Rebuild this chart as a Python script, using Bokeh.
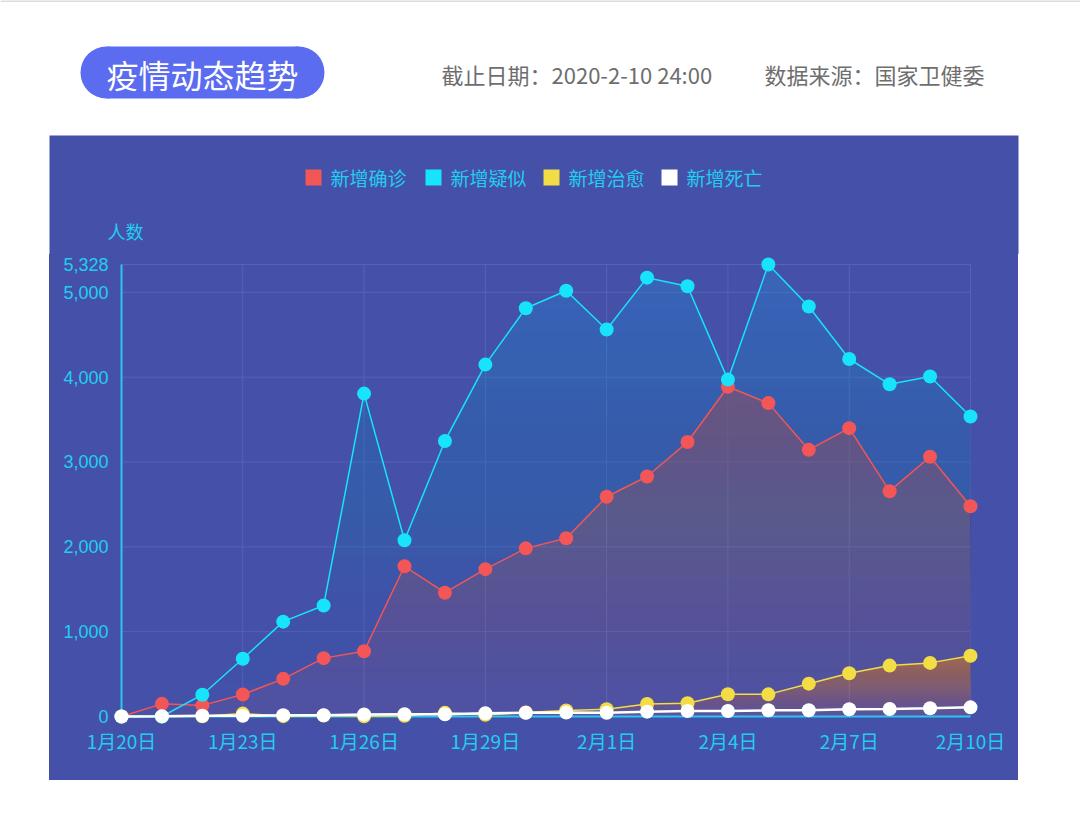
import numpy as np
from bokeh.plotting import figure
from bokeh.models import Range1d, FixedTicker, NumeralTickFormatter, Spacer
from bokeh.layouts import column, row
from bokeh.core.properties import value
from bokeh.embed import file_html
from bokeh.resources import INLINE

# ---------------- data ----------------
days = list(range(22))
date_labels = ["1月20日", "1月23日", "1月26日", "1月29日", "2月1日", "2月4日", "2月7日", "2月10日"]
label_days = [0, 3, 6, 9, 12, 15, 18, 21]
confirmed = [0, 149, 131, 259, 444, 688, 769, 1771, 1459, 1737, 1982, 2102,
             2590, 2829, 3235, 3887, 3694, 3143, 3399, 2656, 3062, 2478]
suspected = [0, 0, 257, 680, 1118, 1309, 3806, 2077, 3248, 4148, 4812, 5019,
             4562, 5173, 5072, 3971, 5328, 4833, 4214, 3916, 4008, 3536]
cured = [0, 0, 3, 34, 4, 11, 2, 9, 43, 21, 47, 72,
         85, 147, 157, 262, 261, 387, 510, 600, 632, 716]
deaths = [0, 3, 8, 8, 16, 15, 24, 26, 26, 38, 43, 46,
          45, 57, 64, 65, 73, 73, 86, 89, 97, 108]
y_ticks = [0, 1000, 2000, 3000, 4000, 5000, 5328]
series_names = ["新增确诊", "新增疑似", "新增治愈", "新增死亡"]

title_text = "疫情动态趋势"
date_text = "截止日期：2020-2-10 24:00"
source_text = "数据来源：国家卫健委"
y_title = "人数"

# ---------------- styles ----------------
PANEL = "#4551a8"
CYAN_TXT = "#22cdf3"
C_RED = "#f25656"
C_CYAN = "#17e3fb"
C_YEL = "#f3dd45"
C_WHITE = "#ffffff"
CJK = "Noto Sans CJK SC"
series_colors = [C_RED, C_CYAN, C_YEL, C_WHITE]

# ---------------- header (incl. top of the dark panel) ----------------
W = 1080
HH = 254
hdr = figure(width=W, height=HH, x_range=Range1d(0, W), y_range=Range1d(HH, 0),
             output_backend="svg", toolbar_location=None, min_border=0,
             x_axis_type=None, y_axis_type=None, outline_line_color=None,
             background_fill_color="#ffffff", border_fill_color="#ffffff")
hdr.grid.visible = False
hdr.segment(x0=[0], y0=[0.5], x1=[W], y1=[0.5], line_color="#dcdcdc", line_width=2)
hdr.rect(x=[202], y=[72], width=[192], height=[52], fill_color="#5b6cf0", line_color=None)
hdr.circle(x=[106, 298], y=[72, 72], radius=26, fill_color="#5b6cf0", line_color=None)
hdr.text(x=[202], y=[73], text=[title_text], text_font=value(CJK), text_font_size="32px",
         text_color="white", text_align="center", text_baseline="middle")
hdr.text(x=[441, 764], y=[73, 73], text=[date_text, source_text], text_font=value(CJK),
         text_font_size="22px", text_color="#6e6e6e", text_align="left", text_baseline="middle")
# panel top
hdr.quad(left=[49], right=[1018], top=[135], bottom=[HH + 1], fill_color=PANEL, line_color=None)
# legend (manual)
sq_left = [305, 425, 543, 661]
hdr.quad(left=sq_left, right=[s + 16 for s in sq_left], top=[169] * 4, bottom=[185] * 4,
         fill_color=series_colors, line_color=None)
hdr.text(x=[s + 25 for s in sq_left], y=[177] * 4, text=series_names, text_font=value(CJK),
         text_font_size="19px", text_color=CYAN_TXT, text_align="left", text_baseline="middle")
hdr.text(x=[125], y=[230], text=[y_title], text_font=value(CJK), text_font_size="18px",
         text_color=CYAN_TXT, text_align="center", text_baseline="middle")

# ---------------- chart ----------------
CW, CH = 969, 780 - HH
pad = 10
px_x = 849 / 21.0
px_y = 452 / 5328.0
xr = Range1d(-pad / px_x, 21 + pad / px_x)
yr = Range1d(-pad / px_y, 5328 + pad / px_y)

p = figure(width=CW, height=CH, x_range=xr, y_range=yr, output_backend="svg",
           toolbar_location=None, background_fill_color=PANEL,
           border_fill_color=PANEL, outline_line_color=None,
           min_border_left=62, min_border_right=38, min_border_top=0, min_border_bottom=54)
p.styles = {"background-color": PANEL}
p.grid.visible = False

# grid lines
GRID = "#5662b6"
hy = [t for t in y_ticks if t > 0]
p.segment(x0=[0] * len(hy), y0=hy, x1=[21] * len(hy), y1=hy, line_color=GRID, line_width=1)
vx = [d for d in label_days if d > 0]
p.segment(x0=vx, y0=[0] * len(vx), x1=vx, y1=[5328] * len(vx), line_color=GRID, line_width=1)

# gradient areas (stacked translucent layers)
xs = np.linspace(0, 21, 841)


def grad_area(vals, color, a_bot, a_top, n=40):
    v = np.interp(xs, days, vals)
    top = max(vals)
    prev = 0.0
    for k in range(n):
        lo = top * k / n
        f = (k + 0.5) / n
        target = a_bot + (a_top - a_bot) * f
        a = 1 - (1 - target) / (1 - prev)
        prev = target
        y1 = np.minimum(v, lo)
        p.varea(x=xs, y1=y1, y2=v, fill_color=color, fill_alpha=a)


grad_area(suspected, "#4a86dc", 0.0, 0.62)
grad_area(confirmed, "#f25a5a", 0.06, 0.36)
grad_area(cured, "#e8903a", 0.05, 0.62)

# axis lines
p.segment(x0=[0], y0=[0], x1=[0], y1=[5328], line_color="#2bc6f2", line_width=2)
p.segment(x0=[0], y0=[0], x1=[21], y1=[0], line_color="#2bc6f2", line_width=2)

for vals, col, lw in [(confirmed, C_RED, 1.5), (cured, C_YEL, 1.5),
                      (suspected, C_CYAN, 1.5), (deaths, C_WHITE, 2.5)]:
    p.line(days, vals, line_color=col, line_width=lw)
    p.scatter(days, vals, size=14, fill_color=col, line_color=col, line_width=0)

# axes
p.xaxis.ticker = FixedTicker(ticks=label_days)
p.xaxis.major_label_overrides = {d: l for d, l in zip(label_days, date_labels)}
p.yaxis.ticker = FixedTicker(ticks=y_ticks)
p.yaxis.formatter = NumeralTickFormatter(format="0,0")
for ax in (p.xaxis, p.yaxis):
    ax.axis_line_color = None
    ax.major_tick_line_color = None
    ax.minor_tick_line_color = None
    ax.major_tick_out = 0
    ax.major_tick_in = 0
    ax.major_label_text_color = CYAN_TXT
p.xaxis.major_label_text_font_size = "19px"
p.yaxis.major_label_text_font_size = "18px"
p.xaxis.major_label_text_font = CJK
p.yaxis.major_label_text_font = "Liberation Sans"
p.xaxis.major_label_standoff = 0
p.yaxis.major_label_standoff = 3

layout = column(hdr, row(Spacer(width=49), p))
open("out.html", "w").write(file_html(layout, INLINE))
